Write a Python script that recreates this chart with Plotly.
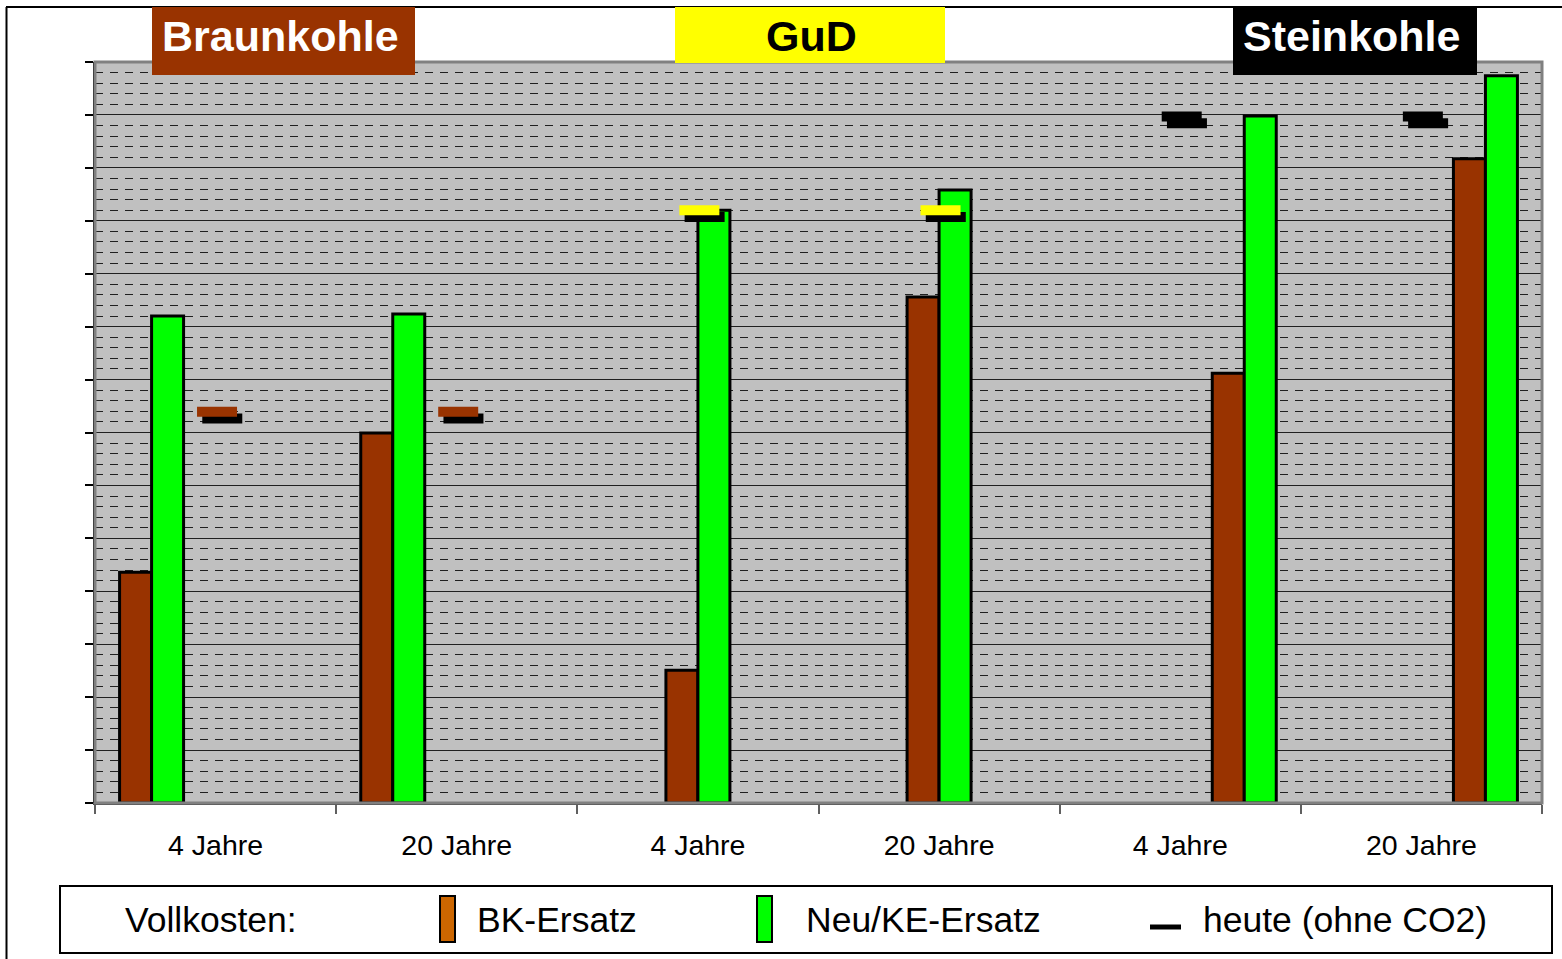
import plotly.graph_objects as go

# ---------------- data ----------------
categories = ["4 Jahre", "20 Jahre", "4 Jahre", "20 Jahre", "4 Jahre", "20 Jahre"]
plant_types = ["Braunkohle", "Braunkohle", "GuD", "GuD", "Steinkohle", "Steinkohle"]
bk_ersatz = [4.36, 6.99, 2.51, 9.56, 8.12, 12.17]
neu_ke_ersatz = [9.20, 9.24, 11.20, 11.58, 12.98, 13.74]
heute = [7.39, 7.39, 11.20, 11.20, 12.97, 12.97]
group_names = ["Braunkohle", "GuD", "Steinkohle"]

# ---------------- styles ----------------
BROWN = "#993300"
GREEN = "#00FF00"
YELLOW = "#FFFF00"
type_color = {"Braunkohle": BROWN, "GuD": YELLOW, "Steinkohle": "#000000"}
FONT = "Liberation Sans, Arial, sans-serif"

W, H = 1562, 959
L, R, T, B = 95, 1542, 62, 803
PW, PH = R - L, B - T


def px(x):
    return (x - L) / PW


def py(y):
    return (B - y) / PH


x = list(range(len(categories)))
ymax = 14
unit_x = PW / len(categories)
unit_y = PH / ymax

fig = go.Figure()

# bars: two slots per plant type -> six grouped slots per category
for g in group_names:
    bk_vals = [v if t == g else None for v, t in zip(bk_ersatz, plant_types)]
    neu_vals = [v if t == g else None for v, t in zip(neu_ke_ersatz, plant_types)]
    fig.add_trace(go.Bar(x=x, y=bk_vals, marker=dict(color=BROWN, line=dict(color="black", width=3)),
                         name="BK-Ersatz", showlegend=False))
    fig.add_trace(go.Bar(x=x, y=neu_vals, marker=dict(color=GREEN, line=dict(color="black", width=3)),
                         name="Neu/KE-Ersatz", showlegend=False))

# heute markers with shadow (line-ew length = 1.4 * size)
MSIZE = 40 / 1.4
sdx, sdy = 6.7 / unit_x, 6.7 / unit_y
fig.add_trace(go.Scatter(
    x=[v + sdx for v in x], y=[v - sdy for v in heute], mode="markers",
    marker=dict(symbol="line-ew", size=MSIZE, line=dict(color="black", width=10)),
    showlegend=False, hoverinfo="skip"))
fig.add_trace(go.Scatter(
    x=[v + 0.006 for v in x], y=heute, mode="markers",
    marker=dict(symbol="line-ew", size=MSIZE,
                line=dict(color=[type_color[t] for t in plant_types], width=10)),
    name="heute (ohne CO2)", showlegend=False))

shapes = []
annotations = []

# plot frame (grey top/right)
shapes.append(dict(type="rect", xref="paper", yref="paper", x0=0, y0=0, x1=1, y1=1,
                   line=dict(color="#808080", width=3), layer="above"))
# outer chart border (top & left)
shapes.append(dict(type="line", xref="paper", yref="paper", x0=px(6), y0=py(7), x1=px(1562), y1=py(7),
                   line=dict(color="black", width=2)))
shapes.append(dict(type="line", xref="paper", yref="paper", x0=px(6.5), y0=py(7), x1=px(6.5), y1=py(959),
                   line=dict(color="black", width=2)))

# group title boxes
title_boxes = [
    ("Braunkohle", 152, 415, 7, 75, BROWN, "white", 280),
    ("GuD", 675, 945, 7, 63, YELLOW, "black", 811),
    ("Steinkohle", 1233, 1477, 7, 75, "black", "white", 1351),
]
for text, x0, x1, y0, y1, bg, fg, xc in title_boxes:
    shapes.append(dict(type="rect", xref="paper", yref="paper", x0=px(x0), x1=px(x1), y0=py(y1), y1=py(y0),
                       fillcolor=bg, line=dict(width=0), layer="above"))
    annotations.append(dict(text=f"<b>{text}</b>", xref="paper", yref="paper", x=px(xc), y=py(36),
                            xanchor="center", yanchor="middle", showarrow=False,
                            font=dict(family=FONT, size=43, color=fg)))

# legend box
shapes.append(dict(type="rect", xref="paper", yref="paper", x0=px(60), x1=px(1552), y0=py(953), y1=py(886),
                   line=dict(color="black", width=2), fillcolor="white"))
shapes.append(dict(type="rect", xref="paper", yref="paper", x0=px(440), x1=px(455), y0=py(942), y1=py(896),
                   line=dict(color="black", width=2), fillcolor="#CC6600"))
shapes.append(dict(type="rect", xref="paper", yref="paper", x0=px(757), x1=px(772), y0=py(942), y1=py(896),
                   line=dict(color="black", width=2), fillcolor=GREEN))
shapes.append(dict(type="line", xref="paper", yref="paper", x0=px(1150), x1=px(1181), y0=py(927), y1=py(927),
                   line=dict(color="black", width=5)))
legend_texts = [("Vollkosten:", 123), ("BK-Ersatz", 475), ("Neu/KE-Ersatz", 804), ("heute (ohne CO2)", 1201)]
for text, xl in legend_texts:
    annotations.append(dict(text=text, xref="paper", yref="paper", x=px(xl), y=py(920),
                            xanchor="left", yanchor="middle", showarrow=False,
                            font=dict(family=FONT, size=35.5, color="black")))

fig.update_layout(
    width=W, height=H, autosize=False,
    margin=dict(l=L, r=W - R, t=T, b=H - B, pad=0),
    paper_bgcolor="white", plot_bgcolor="#C0C0C0",
    barmode="group", bargap=1 - 192 / unit_x, bargroupgap=0,
    font=dict(family=FONT, color="black"),
    showlegend=False,
    shapes=shapes, annotations=annotations,
    xaxis=dict(range=[-0.5, len(categories) - 0.5], tickmode="array", tickvals=x, ticktext=categories,
               ticks="", showgrid=False, zeroline=False, showline=True, linecolor="#404040", linewidth=1.5,
               tickfont=dict(family=FONT, size=28.5, color="black"), ticklabelstandoff=16,
               minor=dict(tick0=-0.5, dtick=1, ticks="outside", ticklen=9, tickcolor="#606060", tickwidth=1.5,
                          showgrid=False)),
    yaxis=dict(range=[0, ymax], dtick=1, showticklabels=False, ticks="outside", ticklen=8,
               tickcolor="black", tickwidth=2, showline=True, linecolor="black", linewidth=2,
               showgrid=True, gridcolor="#202020", gridwidth=1, zeroline=False,
               minor=dict(dtick=0.2, showgrid=True, gridcolor="#202020", gridwidth=1, griddash="8px,7px",
                          ticks="")),
)

fig.write_html("out.html", config={"displayModeBar": False},
               post_script="document.body.style.margin='0';document.body.style.overflow='hidden';")
